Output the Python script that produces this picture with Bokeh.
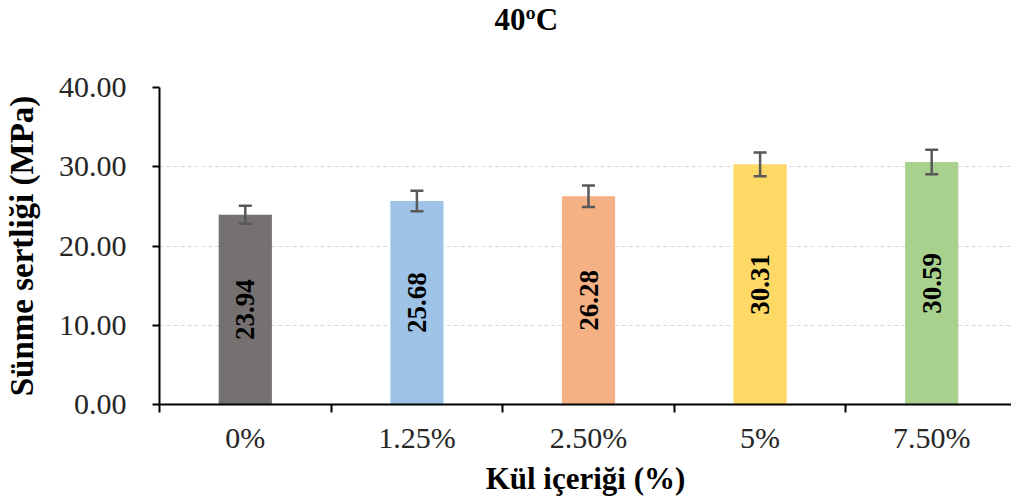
import math
from bokeh.plotting import figure
from bokeh.models import (ColumnDataSource, Range1d, FixedTicker, NumeralTickFormatter,
                          Whisker, TeeHead, Title)
from bokeh.core.properties import value
from bokeh.embed import file_html
from bokeh.resources import INLINE

# ---- data ----
categories = ["0%", "1.25%", "2.50%", "5%", "7.50%"]
values = [23.94, 25.68, 26.28, 30.31, 30.59]
errors = [1.13, 1.28, 1.36, 1.50, 1.55]
colors = ["#767171", "#9DC3E6", "#F4B183", "#FFD966", "#A9D18E"]
y_ticks = [0, 10, 20, 30, 40]
title_text = "40\u00baC"
x_title = "Kül içeriği (%)"
y_title = "Sünme sertliği (MPa)"

FONT = "Liberation Serif"

xs = list(range(len(categories)))
source = ColumnDataSource(dict(
    x=xs,
    value=values,
    mid=[v / 2 for v in values],
    label=[f"{v:.2f}" for v in values],
    upper=[v + e for v, e in zip(values, errors)],
    lower=[v - e for v, e in zip(values, errors)],
    color=colors,
))

p = figure(width=1011, height=503, output_backend="svg", toolbar_location=None, title=None,
           x_range=Range1d(-0.5, 4.465), y_range=Range1d(0, 40),
           min_border_left=155, min_border_right=0, min_border_top=87, min_border_bottom=99)
p.outline_line_color = None
p.background_fill_color = "white"
p.border_fill_color = "white"

p.vbar(x="x", top="value", width=0.31, source=source, fill_color="color", line_color=None)

whisker = Whisker(base="x", upper="upper", lower="lower", source=source,
                  line_color="#595959", line_width=2.5, level="overlay",
                  upper_head=TeeHead(size=13, line_color="#595959", line_width=2.5),
                  lower_head=TeeHead(size=13, line_color="#595959", line_width=2.5))
p.add_layout(whisker)

p.text(x="x", y="mid", text="label", source=source, angle=math.pi / 2,
       text_align="center", text_baseline="middle",
       text_font=value(FONT), text_font_style="bold", text_font_size="27px",
       text_color="black")

# white spacer panel next to the frame, then the real title above it
spacer = Title(text="\u00a0", text_font_size="10px", text_color="white", standoff=36)
p.add_layout(spacer, "above")
main_title = Title(text=title_text, align="left", offset=335, vertical_align="top",
                   standoff=0, text_font=FONT, text_font_style="bold",
                   text_font_size="31px", text_color="black")
p.add_layout(main_title, "above")

# grid
p.xgrid.grid_line_color = None
p.ygrid.ticker = FixedTicker(ticks=y_ticks)
p.ygrid.grid_line_color = "#D9D9D9"
p.ygrid.grid_line_dash = "4 3"
p.ygrid.grid_line_width = 1

# y axis
ya = p.yaxis[0]
ya.ticker = FixedTicker(ticks=y_ticks)
ya.formatter = NumeralTickFormatter(format="0.00")
ya.axis_line_color = "black"
ya.axis_line_width = 2
ya.major_tick_line_color = "black"
ya.major_tick_line_width = 2
ya.major_tick_out = 7
ya.major_tick_in = 0
ya.minor_tick_line_color = None
ya.major_label_standoff = 26
ya.major_label_text_font = FONT
ya.major_label_text_font_size = "30px"
ya.major_label_text_color = "#262626"
ya.axis_label = y_title
ya.axis_label_text_font = FONT
ya.axis_label_text_font_style = "bold"
ya.axis_label_text_font_size = "33px"
ya.axis_label_text_color = "black"
ya.axis_label_standoff = 16

# x axis
xa = p.xaxis[0]
xa.ticker = FixedTicker(ticks=xs, minor_ticks=[i - 0.5 for i in range(len(categories) + 1)])
xa.major_label_overrides = {i: c for i, c in enumerate(categories)}
xa.axis_line_color = "black"
xa.axis_line_width = 2
xa.major_tick_line_color = None
xa.major_tick_out = 0
xa.major_tick_in = 0
xa.minor_tick_line_color = "black"
xa.minor_tick_line_width = 2
xa.minor_tick_out = 8
xa.minor_tick_in = 0
xa.major_label_standoff = 8
xa.major_label_text_font = FONT
xa.major_label_text_font_size = "30px"
xa.major_label_text_color = "#262626"
xa.axis_label = x_title
xa.axis_label_text_font = FONT
xa.axis_label_text_font_style = "bold"
xa.axis_label_text_font_size = "31px"
xa.axis_label_text_color = "black"
xa.axis_label_standoff = 4

open("out.html", "w").write(file_html(p, INLINE))
